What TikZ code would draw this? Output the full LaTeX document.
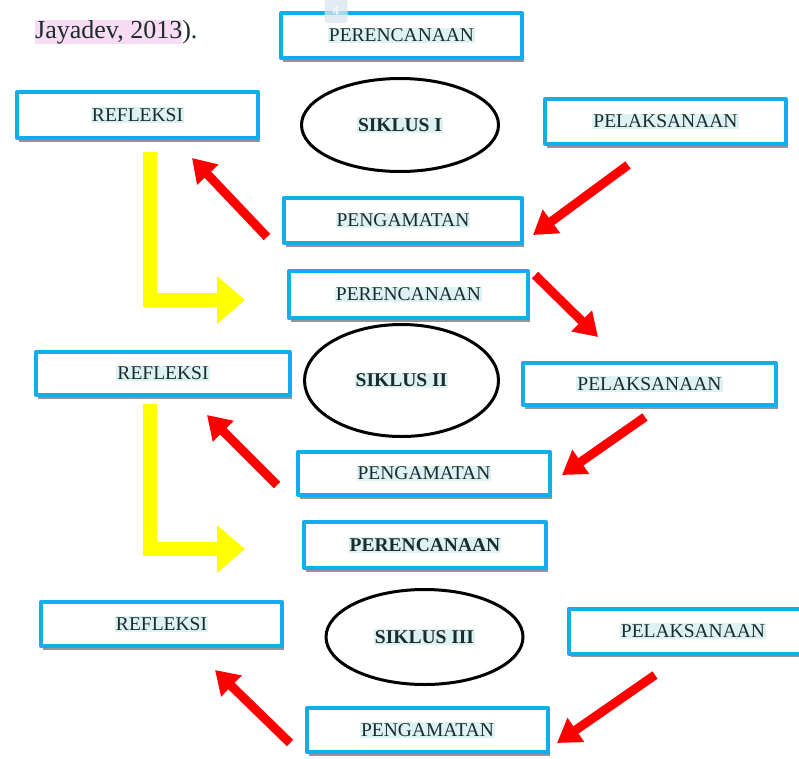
\documentclass[tikz,border=0pt]{standalone}
\usepackage{fontspec}
\setmainfont{Liberation Serif}
\usetikzlibrary{arrows.meta,shapes.geometric,shadows}
\definecolor{biru}{HTML}{12AEEA}
\definecolor{sorot}{HTML}{DDF2F2}
\definecolor{merah}{HTML}{FF0000}
\definecolor{kuning}{HTML}{FFFF00}
\definecolor{merahmuda}{HTML}{F8DCF4}
\definecolor{tinta}{HTML}{1C2B2B}
\definecolor{abu}{HTML}{D6E6EE}
\newcommand{\hl}[1]{{\setlength{\fboxsep}{1pt}\colorbox{sorot}{#1}}}
\begin{document}
\begin{tikzpicture}[x=1pt, y=-1pt, line join=round, font=\fontsize{19.5}{22}\selectfont,
	kotak/.style={draw=biru, line width=4pt, fill=white, inner sep=0pt, text=tinta,
		drop shadow={shadow xshift=1.5pt, shadow yshift=-3.5pt, fill=black!60, opacity=.7}},
	siklus/.style={ellipse, draw=black, line width=3pt, inner sep=0pt, text=tinta, font=\fontsize{19.5}{22}\selectfont\bfseries},
	panahmerah/.style={draw=merah, line width=9pt, line join=miter, -{Triangle[length=23pt,width=28pt]}},
	panahkuning/.style={draw=kuning, line width=14pt, line join=miter, -{Triangle[length=28pt,width=46pt]}}]
	\useasboundingbox (0,0) rectangle (799,758);
	%\fill[white] (0,0) rectangle (799,758);
	\node[anchor=base west, inner sep=0pt, text=tinta, font=\fontsize{26}{28}\selectfont] (kutip) at (35,38) {{\setlength{\fboxsep}{0pt}\colorbox{merahmuda}{Jayadev, 2013}}).};
	% siklus I
	\node[kotak, minimum width=241, minimum height=45] (per1) at (401.5,35.5) {\hl{PERENCANAAN}};
	\node[fill=abu, fill opacity=.75, text opacity=1, text=white, rounded corners=3pt, minimum width=23, minimum height=24, inner sep=0pt, font=\fontsize{14}{14}\selectfont\sffamily] (hal) at (336,11) {4};
	\node[kotak, minimum width=241, minimum height=46] (ref1) at (137.5,115) {\hl{REFLEKSI}};
	\node[siklus, minimum width=197, minimum height=93] (sik1) at (400,125) {\hl{SIKLUS I}};
	\node[kotak, minimum width=241, minimum height=45] (pel1) at (665.5,121.5) {\hl{PELAKSANAAN}};
	\node[kotak, minimum width=238, minimum height=45] (pg1) at (403,220.5) {\hl{PENGAMATAN}};
	% siklus II
	\node[kotak, minimum width=239, minimum height=47] (per2) at (408.5,294.5) {\hl{PERENCANAAN}};
	\node[siklus, minimum width=194, minimum height=112] (sik2) at (401.5,380.5) {\hl{SIKLUS II}};
	\node[kotak, minimum width=254, minimum height=43] (ref2) at (163,373.5) {\hl{REFLEKSI}};
	\node[kotak, minimum width=253, minimum height=42] (pel2) at (649.5,384) {\hl{PELAKSANAAN}};
	\node[kotak, minimum width=252, minimum height=43] (pg2) at (424,473.5) {\hl{PENGAMATAN}};
	% siklus III
	\node[kotak, minimum width=242, minimum height=46] (per3) at (425,545) {\hl{\textbf{PERENCANAAN}}};
	\node[kotak, minimum width=241, minimum height=44] (ref3) at (161.5,624) {\hl{REFLEKSI}};
	\node[siklus, minimum width=197, minimum height=95] (sik3) at (424.5,637) {\hl{SIKLUS III}};
	\node[kotak, minimum width=248, minimum height=45] (pel3) at (693,631) {\hl{PELAKSANAAN}};
	\node[kotak, minimum width=241, minimum height=44] (pg3) at (427.5,730) {\hl{PENGAMATAN}};
	% panah
	\coordinate (m1a) at (267,237); \coordinate (m1b) at (192,158);
	\coordinate (m2a) at (628,165); \coordinate (m2b) at (533,235);
	\coordinate (m3a) at (535,275); \coordinate (m3b) at (598,337);
	\coordinate (m4a) at (645,417); \coordinate (m4b) at (562,475);
	\coordinate (m5a) at (277,485); \coordinate (m5b) at (207,415);
	\coordinate (m6a) at (655,675); \coordinate (m6b) at (557,743);
	\coordinate (m7a) at (290,743); \coordinate (m7b) at (215,670);
	\foreach \i in {1,...,7}
		\draw[panahmerah] (m\i a) -- (m\i b);
	\coordinate (k1a) at (150,152); \coordinate (k1b) at (245,300);
	\coordinate (k2a) at (150,404); \coordinate (k2b) at (245,549);
	\draw[panahkuning] (k1a) |- (k1b);
	\draw[panahkuning] (k2a) |- (k2b);
\end{tikzpicture}
\end{document}
